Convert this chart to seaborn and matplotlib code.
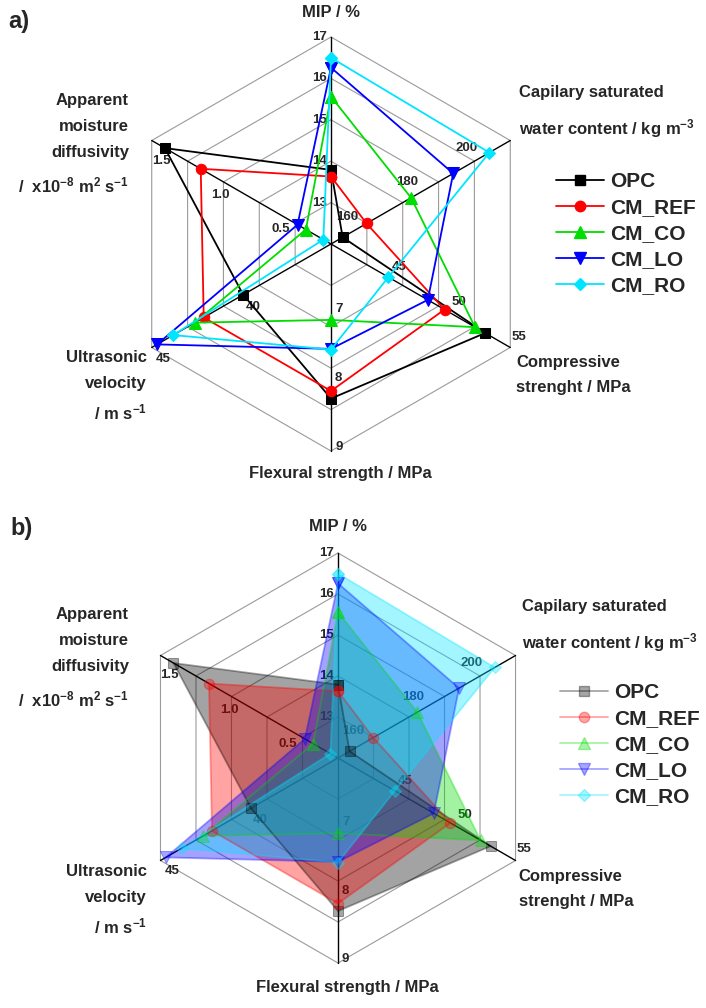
import numpy as np
import seaborn as sns
import matplotlib.pyplot as plt
from matplotlib.lines import Line2D

sns.set_style("white")
plt.rcParams['font.family'] = ['Liberation Sans', 'DejaVu Sans']
plt.rcParams['font.weight'] = 'bold'
plt.rcParams['mathtext.fontset'] = 'custom'
plt.rcParams['mathtext.rm'] = 'Liberation Sans:bold'
plt.rcParams['mathtext.it'] = 'Liberation Sans:bold'
plt.rcParams['mathtext.bf'] = 'Liberation Sans:bold'

W, H = 706, 1008

samples = ["OPC", "CM_REF", "CM_CO", "CM_LO", "CM_RO"]
colors = ["#000000", "#ff0000", "#00dd00", "#0000ff", "#00e5ff"]
markers = ["s", "o", "^", "v", "D"]
msizes = [6.5, 7.5, 8, 8, 6.5]

# values per property, one entry per sample
mip = [13.79, 13.63, 15.56, 16.26, 16.50]
capillary = [153.9, 161.9, 176.8, 190.9, 203.0]
compressive = [52.9, 49.5, 52.05, 48.1, 44.8]
flexural = [8.24, 8.13, 7.10, 7.52, 7.53]
ultrasonic = [39.9, 42.1, 42.6, 44.7, 43.8]
diffusivity = [1.39, 1.09, 0.21, 0.28, 0.064]

# radar axes, clockwise from the top
angles_deg = [90, 30, -30, -90, -150, -210]
ax_min = [12, 150, 40, 6, 35, 0.0]
ax_max = [17, 210, 55, 9, 45, 1.5]
ticks = [[13, 14, 15, 16, 17], [160, 180, 200], [45, 50, 55], [7, 8, 9], [40, 45], [0.5, 1.0, 1.5]]
tick_text = [["13", "14", "15", "16", "17"], ["160", "180", "200"], ["45", "50", "55"],
             ["7", "8", "9"], ["40", "45"], ["0.5", "1.0", "1.5"]]
# label alignment: ha, va, dx, dy (pixels)
tick_style = [("right", "center", -4, 0), ("right", "bottom", -3, 4), ("left", "bottom", 1, 5),
              ("left", "center", 4, 4), ("left", "top", 4, -5), ("left", "top", 0, -14)]

# axis titles (x, baseline y, text, ha, shift factor for panel b)
titles = [
    (331, 17, "MIP / %", "center", 1.0),
    (519, 97, "Capilary saturated", "left", 0.4),
    (519, 134, "water content / kg m$^{-3}$", "left", 0.4),
    (129, 105, "Apparent", "right", 0),
    (129, 131, "moisture", "right", 0),
    (129, 157, "diffusivity", "right", 0),
    (129, 192, "/  x10$^{-8}$ m$^{2}$ s$^{-1}$", "right", 0),
    (516, 367, "Compressive", "left", 0.4),
    (516, 392, "strenght / MPa", "left", 0.4),
    (340, 478, "Flexural strength / MPa", "center", 1.0),
    (147, 362, "Ultrasonic", "right", 0),
    (147, 388, "velocity", "right", 0),
    (147, 419, "/ m s$^{-1}$", "right", 0),
]

props = [mip, capillary, compressive, flexural, ultrasonic, diffusivity]
theta = np.deg2rad(angles_deg + [angles_deg[0] - 360])


def norm(k, v):
    return (v - ax_min[k]) / (ax_max[k] - ax_min[k])


fig = plt.figure(figsize=(W / 100, H / 100), dpi=100)


def panel(cx, cy, R, filled, dx, dy, tag, leg_xy):
    ax = fig.add_axes([(cx - R) / W, 1 - (cy + R) / H, 2 * R / W, 2 * R / H], projection="polar")
    ax.set_facecolor("none")
    ax.grid(False)
    ax.spines["polar"].set_visible(False)

    # hexagon grid and spokes
    for k in range(1, 6):
        ax.plot(theta, [k / 5] * 7, color="#9a9a9a", lw=0.8, zorder=1, clip_on=False)
    for a in theta[:-1]:
        ax.plot([a, a], [0, 1], color="black", lw=1.0, zorder=2, clip_on=False)

    for k in range(6):
        ha, va, ox, oy = tick_style[k]
        for t, s in zip(ticks[k], tick_text[k]):
            ax.annotate(s, xy=(theta[k], norm(k, t)), xytext=(ox, oy), textcoords="offset pixels",
                        ha=ha, va=va, fontsize=9.5, fontweight="bold", annotation_clip=False, zorder=3)

    handles = []
    for i, name in enumerate(samples):
        r = [norm(k, props[k][i]) for k in range(6)]
        r = r + [r[0]]
        if filled:
            ax.fill(theta, r, color=colors[i], alpha=0.36, lw=0, zorder=5 + i)
            alpha = 0.35
        else:
            alpha = 1.0
        sns.lineplot(x=theta, y=r, sort=False, estimator=None, ax=ax, color=colors[i],
                     marker=markers[i], markersize=msizes[i], markeredgecolor=colors[i],
                     lw=1.3, alpha=alpha, zorder=10 + i, clip_on=False)
        handles.append(Line2D([], [], color=colors[i], marker=markers[i], markersize=msizes[i],
                              lw=1.3, alpha=alpha))

    ax.set_ylim(0, 1)
    ax.set_xticks([])
    ax.set_yticks([])
    ax.set_xlabel("")
    ax.set_ylabel("")

    for x, y, s, ha, f in titles:
        fig.text((x + dx * f) / W, 1 - (y + dy) / H, s, ha=ha, va="baseline",
                 fontsize=12, fontweight="bold")

    fig.text(tag[0] / W, 1 - tag[1] / H, tag[2], ha="left", va="baseline",
             fontsize=17, fontweight="bold")

    fig.legend(handles, samples, loc="upper left",
               bbox_to_anchor=(leg_xy[0] / W, 1 - leg_xy[1] / H),
               frameon=False, handlelength=2.3, handletextpad=0.3,
               labelspacing=0.34, borderpad=0, borderaxespad=0, numpoints=1,
               prop={"weight": "bold", "size": 15})


panel(331, 244, 207, False, 0, 0, (8, 28, "a)"), (556, 172))
panel(338, 758, 205, True, 7, 514, (10, 535, "b)"), (560, 683))

fig.savefig("out.png", dpi=100, facecolor="white")
